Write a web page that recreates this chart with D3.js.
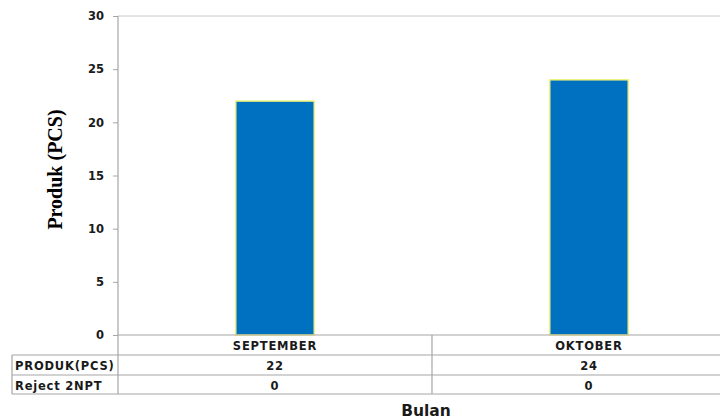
<!DOCTYPE html>
<html>
<head>
<meta charset="utf-8">
<script src="https://cdn.jsdelivr.net/npm/d3@7"></script>
<style>
  html, body { margin: 0; padding: 0; background: #fff; }
  svg { display: block; }
</style>
</head>
<body>
<svg id="chart" width="720" height="419"></svg>
<script>
// Monthly product counts, shown as bars with a data table underneath
const categories = ["SEPTEMBER", "OKTOBER"];
const seriesNames = ["PRODUK(PCS)", "Reject 2NPT"];
const produkValues = [22, 24];
const rejectValues = [0, 0];
const yTicks = [0, 5, 10, 15, 20, 25, 30];

const svg = d3.select("#chart");

const plotLeft = 118, plotTop = 16, plotBottom = 335, plotRight = 746;
const rowY = [335, 355, 375, 394];
const tableLeft = 12;

const x = d3.scaleBand().domain(categories).range([plotLeft, plotRight])
  .paddingInner(0.75).paddingOuter(0.375);
const step = x.step();
const y = d3.scaleLinear().domain([0, 30]).range([plotBottom, plotTop]);

const gridColor = "#c8c8c8";
const axisColor = "#a6a6a6";
const textColor = "#1a1a1a";
const tickFont = "'DejaVu Sans', Verdana, sans-serif";

// top boundary of the value range
svg.append("line")
  .attr("x1", plotLeft).attr("x2", 720)
  .attr("y1", y(30)).attr("y2", y(30))
  .attr("stroke", gridColor).attr("stroke-width", 1);

// y axis
const yAxis = d3.axisLeft(y).tickValues(yTicks).tickSize(5).tickPadding(9);
const gy = svg.append("g").attr("transform", `translate(${plotLeft},0)`).call(yAxis);
gy.select(".domain").remove();
gy.selectAll(".tick line").attr("stroke", axisColor);
gy.selectAll(".tick text")
  .attr("font-family", tickFont).attr("font-weight", "bold")
  .attr("font-size", 11.5).attr("fill", textColor);

// bars
svg.append("g").selectAll("rect")
  .data(categories.map((c, i) => ({ c, v: produkValues[i] })))
  .join("rect")
  .attr("x", d => x(d.c))
  .attr("y", d => y(d.v))
  .attr("width", x.bandwidth())
  .attr("height", d => y(0) - y(d.v))
  .attr("fill", "#0070c0")
  .attr("stroke", "#eef27a")
  .attr("stroke-width", 1.5);

// data table grid
const lineG = svg.append("g").attr("stroke", axisColor).attr("stroke-width", 1.2).attr("fill", "none");
// vertical axis line running down through the table
lineG.append("line").attr("x1", plotLeft).attr("x2", plotLeft).attr("y1", plotTop).attr("y2", rowY[3]);
// horizontal axis line / header top
lineG.append("line").attr("x1", plotLeft).attr("x2", 720).attr("y1", rowY[0]).attr("y2", rowY[0]);
// row lines
[rowY[1], rowY[2], rowY[3]].forEach(yy => {
  lineG.append("line").attr("x1", tableLeft).attr("x2", 720).attr("y1", yy).attr("y2", yy);
});
// left edge of series-name column
lineG.append("line").attr("x1", tableLeft).attr("x2", tableLeft).attr("y1", rowY[1]).attr("y2", rowY[3]);
// category dividers
categories.forEach(c => {
  const xr = x(c) + x.bandwidth() / 2 + step / 2;
  lineG.append("line").attr("x1", xr).attr("x2", xr).attr("y1", rowY[0]).attr("y2", rowY[3]);
});

const tableText = (sel) => sel
  .attr("font-family", tickFont).attr("font-weight", "bold")
  .attr("font-size", 11.5).attr("letter-spacing", 0.8)
  .attr("fill", textColor).attr("dominant-baseline", "central");

// category header row
svg.append("g").selectAll("text").data(categories).join("text")
  .attr("x", d => x(d) + x.bandwidth() / 2)
  .attr("y", (rowY[0] + rowY[1]) / 2 + 1)
  .attr("text-anchor", "middle")
  .text(d => d)
  .call(tableText);

// series rows
const rows = [produkValues, rejectValues];
rows.forEach((vals, r) => {
  const cy = (rowY[r + 1] + rowY[r + 2]) / 2 + 1;
  svg.append("text")
    .attr("x", tableLeft + 3).attr("y", cy)
    .text(seriesNames[r])
    .call(tableText);
  svg.append("g").selectAll("text").data(categories).join("text")
    .attr("x", d => x(d) + x.bandwidth() / 2)
    .attr("y", cy)
    .attr("text-anchor", "middle")
    .text((d, i) => vals[i])
    .call(tableText);
});

// axis titles
svg.append("text")
  .attr("transform", `translate(62,${(plotTop + plotBottom) / 2 - 6}) rotate(-90)`)
  .attr("text-anchor", "middle")
  .attr("font-family", "'Liberation Serif', 'Times New Roman', serif")
  .attr("font-weight", "bold").attr("font-size", 20)
  .attr("fill", "#000")
  .text("Produk (PCS)");

svg.append("text")
  .attr("x", 426).attr("y", 416)
  .attr("text-anchor", "middle")
  .attr("font-family", tickFont).attr("font-weight", "bold")
  .attr("font-size", 15.5).attr("fill", textColor)
  .text("Bulan");
</script>
</body>
</html>
